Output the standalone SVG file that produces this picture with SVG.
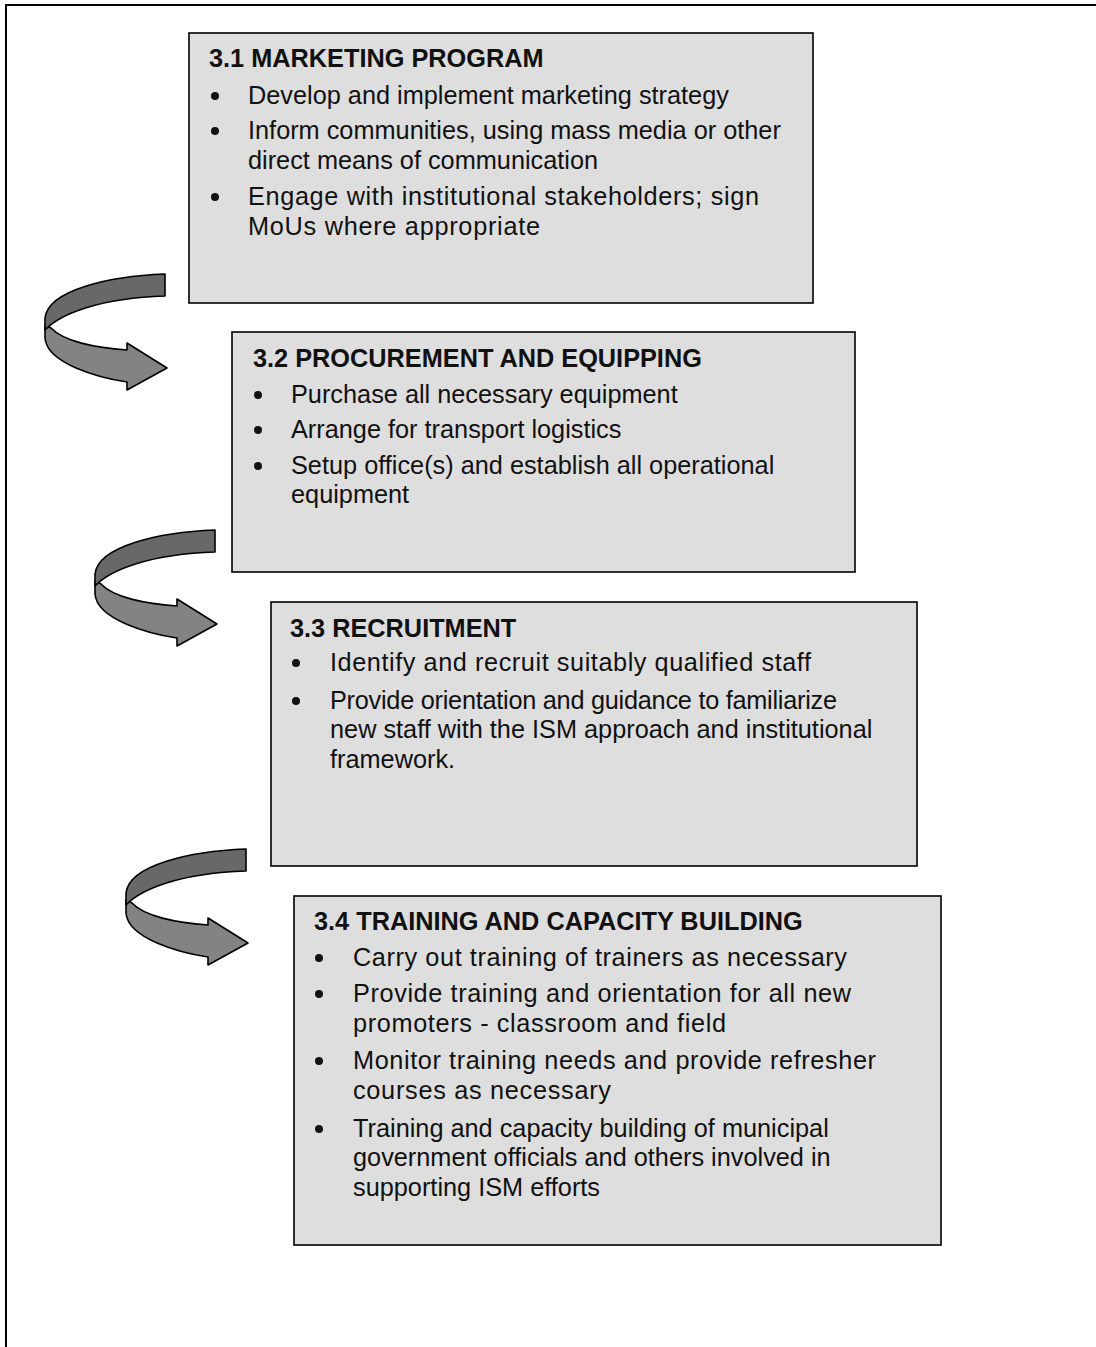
<svg xmlns="http://www.w3.org/2000/svg" width="1096" height="1347" viewBox="0 0 1096 1347">
<style>
.box{fill:#dedede;stroke:#000;stroke-width:1.6}
.t{font-family:"Liberation Sans",Arial,sans-serif;font-size:25.3px;fill:#111}
.h{font-weight:bold}
.b{fill:#111}
.dk{fill:#686868;stroke:#000;stroke-width:1.6;stroke-linejoin:round}
.lt{fill:#838383;stroke:#000;stroke-width:1.6;stroke-linejoin:round}
.frame{fill:none;stroke:#000;stroke-width:2}
</style>
<defs>
<g id="curved">
<path class="lt" d="M45,325 L45,338 C47,364 100,378 127,382 L127,390 L167,368 L127,343 L127,350 C95,348 63,341 51,328 Z"/>
<path class="dk" d="M165,274 C110,276 48,290 45,318 L45,330 C60,314 100,298 165,296 Z"/>
</g>
</defs>
<path class="frame" d="M6,1347 L6,5 L1096,5"/>
<g id="connectors">
<use href="#curved"/>
<use href="#curved" transform="translate(50,256)"/>
<use href="#curved" transform="translate(81,575)"/>
</g>
<g id="node1">
<rect class="box" x="189" y="33" width="624" height="270"/>
<text class="t h" x="209" y="67">3.1 MARKETING PROGRAM</text>
<circle class="b" cx="215" cy="96" r="4"/>
<circle class="b" cx="215" cy="131" r="4"/>
<circle class="b" cx="215" cy="197" r="4"/>
<text class="t" x="248" y="104">Develop and implement marketing strategy</text>
<text class="t" x="248" y="139">Inform communities, using mass media or other</text>
<text class="t" x="248" y="169">direct means of communication</text>
<text class="t" x="248" y="205" textLength="511">Engage with institutional stakeholders; sign</text>
<text class="t" x="248" y="235" textLength="292">MoUs where appropriate</text>
</g>
<g id="node2">
<rect class="box" x="232" y="332" width="623" height="240"/>
<text class="t h" x="253" y="367">3.2 PROCUREMENT AND EQUIPPING</text>
<circle class="b" cx="258" cy="395" r="4"/>
<circle class="b" cx="258" cy="430" r="4"/>
<circle class="b" cx="258" cy="466" r="4"/>
<text class="t" x="291" y="403">Purchase all necessary equipment</text>
<text class="t" x="291" y="438">Arrange for transport logistics</text>
<text class="t" x="291" y="474">Setup office(s) and establish all operational</text>
<text class="t" x="291" y="503">equipment</text>
</g>
<g id="node3">
<rect class="box" x="271" y="602" width="646" height="264"/>
<text class="t h" x="290" y="637">3.3 RECRUITMENT</text>
<circle class="b" cx="296" cy="663" r="4"/>
<circle class="b" cx="296" cy="701" r="4"/>
<text class="t" x="330" y="671" textLength="481">Identify and recruit suitably qualified staff</text>
<text class="t" x="330" y="709" textLength="507">Provide orientation and guidance to familiarize</text>
<text class="t" x="330" y="738">new staff with the ISM approach and institutional</text>
<text class="t" x="330" y="768">framework.</text>
</g>
<g id="node4">
<rect class="box" x="294" y="896" width="647" height="349"/>
<text class="t h" x="314" y="930">3.4 TRAINING AND CAPACITY BUILDING</text>
<circle class="b" cx="319" cy="958" r="4"/>
<circle class="b" cx="319" cy="994" r="4"/>
<circle class="b" cx="319" cy="1061" r="4"/>
<circle class="b" cx="319" cy="1129" r="4"/>
<text class="t" x="353" y="966" textLength="494">Carry out training of trainers as necessary</text>
<text class="t" x="353" y="1002" textLength="498">Provide training and orientation for all new</text>
<text class="t" x="353" y="1032" textLength="373">promoters - classroom and field</text>
<text class="t" x="353" y="1069" textLength="523">Monitor training needs and provide refresher</text>
<text class="t" x="353" y="1099" textLength="258">courses as necessary</text>
<text class="t" x="353" y="1137">Training and capacity building of municipal</text>
<text class="t" x="353" y="1166">government officials and others involved in</text>
<text class="t" x="353" y="1196">supporting ISM efforts</text>
</g>
</svg>
